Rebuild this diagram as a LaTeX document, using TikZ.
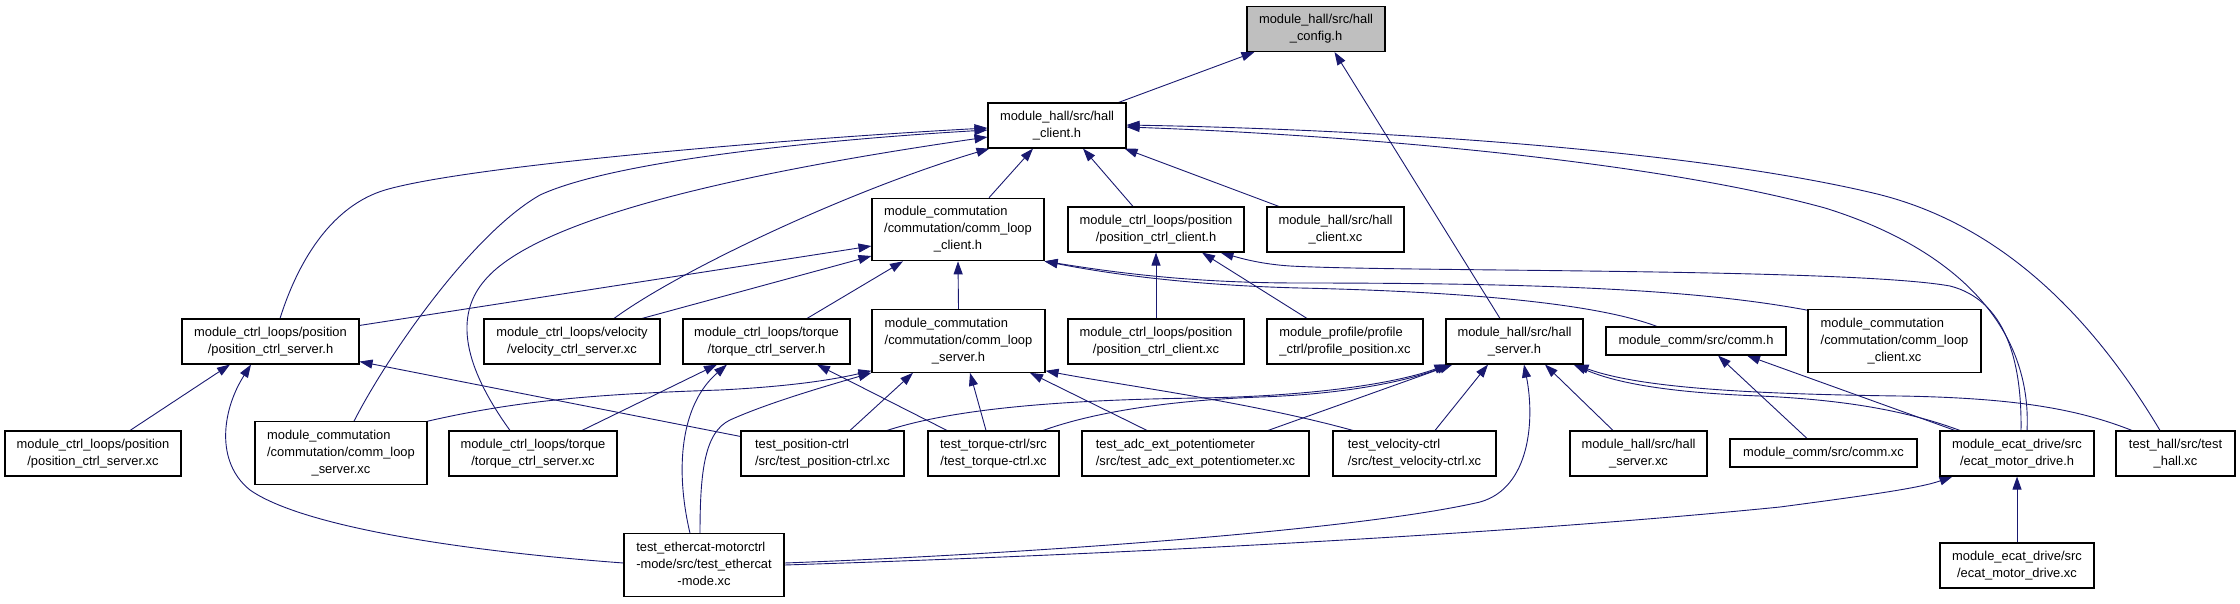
\documentclass[tikz,border=0pt]{standalone}
\usepackage{fontspec}
\setmainfont{Liberation Sans}
\usetikzlibrary{arrows.meta,calc,backgrounds}
\definecolor{edgec}{HTML}{191970}
\definecolor{rootc}{HTML}{BFBFBF}
\newcommand\twol[2]{\begin{tabular}{@{}l@{}}#1\\\multicolumn{1}{@{}c@{}}{#2}\end{tabular}}
\newcommand\threel[3]{\begin{tabular}{@{}l@{}}#1\\#2\\\multicolumn{1}{@{}c@{}}{#3}\end{tabular}}
\begin{document}
\begin{tikzpicture}[x=1pt,y=-1pt,
  box/.style={draw=black,line width=1.1pt,fill=white,inner sep=0pt,font=\fontsize{12.9}{17}\selectfont,align=center},
  b2/.style={box,minimum height=45pt},
  b3/.style={box,minimum height=62.5pt},
  b1/.style={box,minimum height=28pt},
  edge/.style={draw=edgec,line width=0.9pt,-{Triangle[length=13pt,width=9pt]}}]
\useasboundingbox (0,0) rectangle (2240,603);
% row 0
\node[b2,minimum width=138pt,fill=rootc] (cfg) at (1316,29) {\twol{module\_hall/src/hall}{\_config.h}};
% row 1
\node[b2,minimum width=138pt] (hcl) at (1057,125.5) {\twol{module\_hall/src/hall}{\_client.h}};
% row 2
\node[b3,minimum width=172pt] (clc) at (958,229.5) {\threel{module\_commutation}{/commutation/comm\_loop}{\_client.h}};
\node[b2,minimum width=176pt] (pcc) at (1156,229.5) {\twol{module\_ctrl\_loops/position}{/position\_ctrl\_client.h}};
\node[b2,minimum width=137pt] (hcxc) at (1335.5,229.5) {\twol{module\_hall/src/hall}{\_client.xc}};
% row 3
\node[b2,minimum width=177pt] (pcs) at (270.5,341.5) {\twol{module\_ctrl\_loops/position}{/position\_ctrl\_server.h}};
\node[b2,minimum width=176pt] (vel) at (572,341.5) {\twol{module\_ctrl\_loops/velocity}{/velocity\_ctrl\_server.xc}};
\node[b2,minimum width=167pt] (tcs) at (766.5,341.5) {\twol{module\_ctrl\_loops/torque}{/torque\_ctrl\_server.h}};
\node[b3,minimum width=173pt] (cls) at (958.5,341) {\threel{module\_commutation}{/commutation/comm\_loop}{\_server.h}};
\node[b2,minimum width=176pt] (pccxc) at (1156,341.5) {\twol{module\_ctrl\_loops/position}{/position\_ctrl\_client.xc}};
\node[b2,minimum width=156pt] (prof) at (1345,341.5) {\twol{module\_profile/profile}{\_ctrl/profile\_position.xc}};
\node[b2,minimum width=137pt] (hs) at (1514.5,341.5) {\twol{module\_hall/src/hall}{\_server.h}};
\node[b1,minimum width=180pt] (commh) at (1696,341) {module\_comm/src/comm.h};
\node[b3,minimum width=173pt] (clcxc) at (1894.5,341) {\threel{module\_commutation}{/commutation/comm\_loop}{\_client.xc}};
% row 4
\node[b2,minimum width=176pt] (pcsxc) at (93,453.5) {\twol{module\_ctrl\_loops/position}{/position\_ctrl\_server.xc}};
\node[b3,minimum width=172pt] (clsxc) at (341,453) {\threel{module\_commutation}{/commutation/comm\_loop}{\_server.xc}};
\node[b2,minimum width=168pt] (tcsxc) at (533,453.5) {\twol{module\_ctrl\_loops/torque}{/torque\_ctrl\_server.xc}};
\node[b2,minimum width=163pt] (tpos) at (822.5,453.5) {\twol{test\_position-ctrl}{/src/test\_position-ctrl.xc}};
\node[b2,minimum width=131pt] (ttor) at (993.5,453.5) {\twol{test\_torque-ctrl/src}{/test\_torque-ctrl.xc}};
\node[b2,minimum width=227pt] (tadc) at (1195.5,453.5) {\twol{test\_adc\_ext\_potentiometer}{/src/test\_adc\_ext\_potentiometer.xc}};
\node[b2,minimum width=163pt] (tvel) at (1414.5,453.5) {\twol{test\_velocity-ctrl}{/src/test\_velocity-ctrl.xc}};
\node[b2,minimum width=137pt] (hsxc) at (1638.5,453.5) {\twol{module\_hall/src/hall}{\_server.xc}};
\node[b1,minimum width=187pt] (commxc) at (1823.5,453) {module\_comm/src/comm.xc};
\node[b2,minimum width=154pt] (ecath) at (2017,453.5) {\twol{module\_ecat\_drive/src}{/ecat\_motor\_drive.h}};
\node[b2,minimum width=119pt] (thall) at (2175.5,453.5) {\twol{test\_hall/src/test}{\_hall.xc}};
% row 5
\node[b3,minimum width=160pt] (teth) at (704,565) {\threel{test\_ethercat-motorctrl}{-mode/src/test\_ethercat}{-mode.xc}};
\node[b2,minimum width=154pt] (ecatxc) at (2017,565.5) {\twol{module\_ecat\_drive/src}{/ecat\_motor\_drive.xc}};

\begin{scope}[on background layer]
% to hall_config
\draw[edge] ($(hcl.north east)+(-8,0)$) -- ($(cfg.south west)+(8,0)$);
\draw[edge] ($(hs.north)+(-14.5,0)$) -- ($(cfg.south)+(18.5,0)$);
% to hall_client
\draw[edge] ($(clc.north)+(31,0)$) -- ($(hcl.south)+(-24,0)$);
\draw[edge] ($(pcc.north)+(-23,0)$) -- ($(hcl.south)+(26,0)$);
\draw[edge] ($(hcxc.north)+(-56.5,0)$) -- ($(hcl.south east)+(-2,0)$);
\draw[edge] ($(pcs.north)+(9.5,0)$) .. controls (300,255) and (335,205) .. (385,190) .. controls (470,165) and (800,138) .. ($(hcl.west)+(0,2.5)$);
\draw[edge] ($(clsxc.north)+(13,0)$) .. controls (385,360) and (470,235) .. (540,195) .. controls (620,158) and (850,138) .. ($(hcl.west)+(0,4.5)$);
\draw[edge] ($(tcsxc.north)+(-23,0)$) .. controls (470,375) and (450,320) .. (485,280) .. controls (540,215) and (760,170) .. ($(hcl.west)+(0,11.5)$);
\draw[edge] ($(vel.north)+(42,0)$) .. controls (680,270) and (850,190) .. ($(hcl.south west)+(2,0)$);
\draw[edge] ($(ecath.north)+(10,0)$) .. controls (2032,330) and (1960,250) .. (1825,208) .. controls (1650,160) and (1350,135) .. ($(hcl.east)+(0,1.5)$);
\draw[edge] ($(thall.north)+(-15.5,0)$) .. controls (2100,330) and (2010,225) .. (1873,193) .. controls (1700,152) and (1400,130) .. ($(hcl.east)+(0,-0.5)$);
% to comm_loop_client
\draw[edge] ($(pcs.north east)+(0,7)$) -- ($(clc.west)+(0,16.5)$);
\draw[edge] ($(vel.north)+(70,0)$) -- ($(clc.west)+(0,26.5)$);
\draw[edge] ($(tcs.north)+(40.5,0)$) -- ($(clc.south)+(-55,0)$);
\draw[edge] (cls.north) -- (clc.south);
\draw[edge] ($(commh.north)+(-39,0)$) .. controls (1600,305) and (1480,292) .. (1300,288) .. controls (1180,285) and (1100,272) .. (clc.south east);
\draw[edge] ($(clcxc.north west)+(0,1)$) .. controls (1700,290) and (1550,283) .. (1300,283) .. controls (1180,283) and (1100,270) .. (clc.south east);
% to position_ctrl_client
\draw[edge] (pccxc.north) -- (pcc.south);
\draw[edge] ($(prof.north)+(-38,0)$) -- ($(pcc.south)+(46,0)$);
\draw[edge] ($(ecath.north)+(4,0)$) .. controls (2022,360) and (2005,300) .. (1950,286) .. controls (1850,268) and (1400,272) .. (1290,266) .. controls (1260,264) and (1240,258) .. ($(pcc.south east)+(-24,0)$);
% to position_ctrl_server
\draw[edge] ($(pcsxc.north)+(37,0)$) -- ($(pcs.south)+(-40.5,0)$);
\draw[edge] ($(teth.west)+(0,-2)$) .. controls (450,550) and (300,525) .. (250,490) .. controls (215,462) and (222,410) .. ($(pcs.south)+(-19.5,0)$);
\draw[edge] ($(tpos.north west)+(0,6)$) -- ($(pcs.south east)+(0,-3)$);
% to torque_ctrl_server.h
\draw[edge] ($(tcsxc.north)+(49,0)$) -- ($(tcs.south)+(-49.5,0)$);
\draw[edge] ($(teth.north)+(-14,0)$) .. controls (675,470) and (680,405) .. ($(tcs.south)+(-39.5,0)$);
\draw[edge] ($(ttor.north)+(-46.5,0)$) -- ($(tcs.south)+(50.5,0)$);
% to comm_loop_server.h
\draw[edge] (clsxc.north east) .. controls (520,400) and (600,394) .. (720,390) .. controls (800,386) and (840,378) .. ($(cls.south west)+(0,-2)$);
\draw[edge] ($(teth.north)+(-4,0)$) .. controls (700,470) and (705,432) .. (730,420) .. controls (770,402) and (830,385) .. (cls.south west);
\draw[edge] ($(tpos.north)+(27.5,0)$) -- ($(cls.south)+(-45.5,0)$);
\draw[edge] ($(ttor.north)+(-7.5,0)$) -- ($(cls.south)+(11.5,0)$);
\draw[edge] ($(tadc.north)+(-48.5,0)$) -- ($(cls.south)+(71.5,0)$);
\draw[edge] ($(tvel.north)+(-61.5,0)$) .. controls (1250,402) and (1120,385) .. ($(cls.south east)+(0,-2)$);
% to hall_server.h
\draw[edge] ($(tpos.north)+(64.5,0)$) .. controls (950,410) and (1050,400) .. (1200,398) .. controls (1320,396) and (1400,382) .. ($(hs.south west)+(2,0)$);
\draw[edge] ($(ttor.north)+(49.5,0)$) .. controls (1100,410) and (1180,400) .. (1260,397) .. controls (1350,394) and (1410,380) .. ($(hs.south west)+(4,0)$);
\draw[edge] ($(tadc.north)+(72.5,0)$) -- ($(hs.south west)+(7,0)$);
\draw[edge] ($(tvel.north)+(20.5,0)$) -- ($(hs.south)+(-26.5,0)$);
\draw[edge] ($(teth.east)+(0,-2)$) .. controls (1000,555) and (1350,532) .. (1480,502) .. controls (1530,488) and (1535,420) .. ($(hs.south)+(9.5,0)$);
\draw[edge] ($(hsxc.north)+(-25.5,0)$) -- ($(hs.south)+(30.5,0)$);
\draw[edge] ($(ecath.north)+(-57,0)$) .. controls (1910,412) and (1850,400) .. (1760,396) .. controls (1680,393) and (1620,385) .. ($(hs.south east)+(-10,0)$);
\draw[edge] ($(thall.north)+(-43.5,0)$) .. controls (2080,410) and (2020,398) .. (1900,396) .. controls (1750,394) and (1640,388) .. ($(hs.south east)+(-8,0)$);
% to comm.h
\draw[edge] ($(commxc.north)+(-16.5,0)$) -- ($(commh.south)+(22,0)$);
\draw[edge] ($(ecath.north)+(-62,0)$) -- ($(commh.south)+(51,0)$);
% to ecat_motor_drive.h
\draw[edge] (ecatxc.north) -- (ecath.south);
\draw[edge] (teth.east) .. controls (1100,555) and (1500,535) .. (1780,507) .. controls (1870,495) and (1920,488) .. ($(ecath.south west)+(13,0)$);
\end{scope}
\end{tikzpicture}
\end{document}
